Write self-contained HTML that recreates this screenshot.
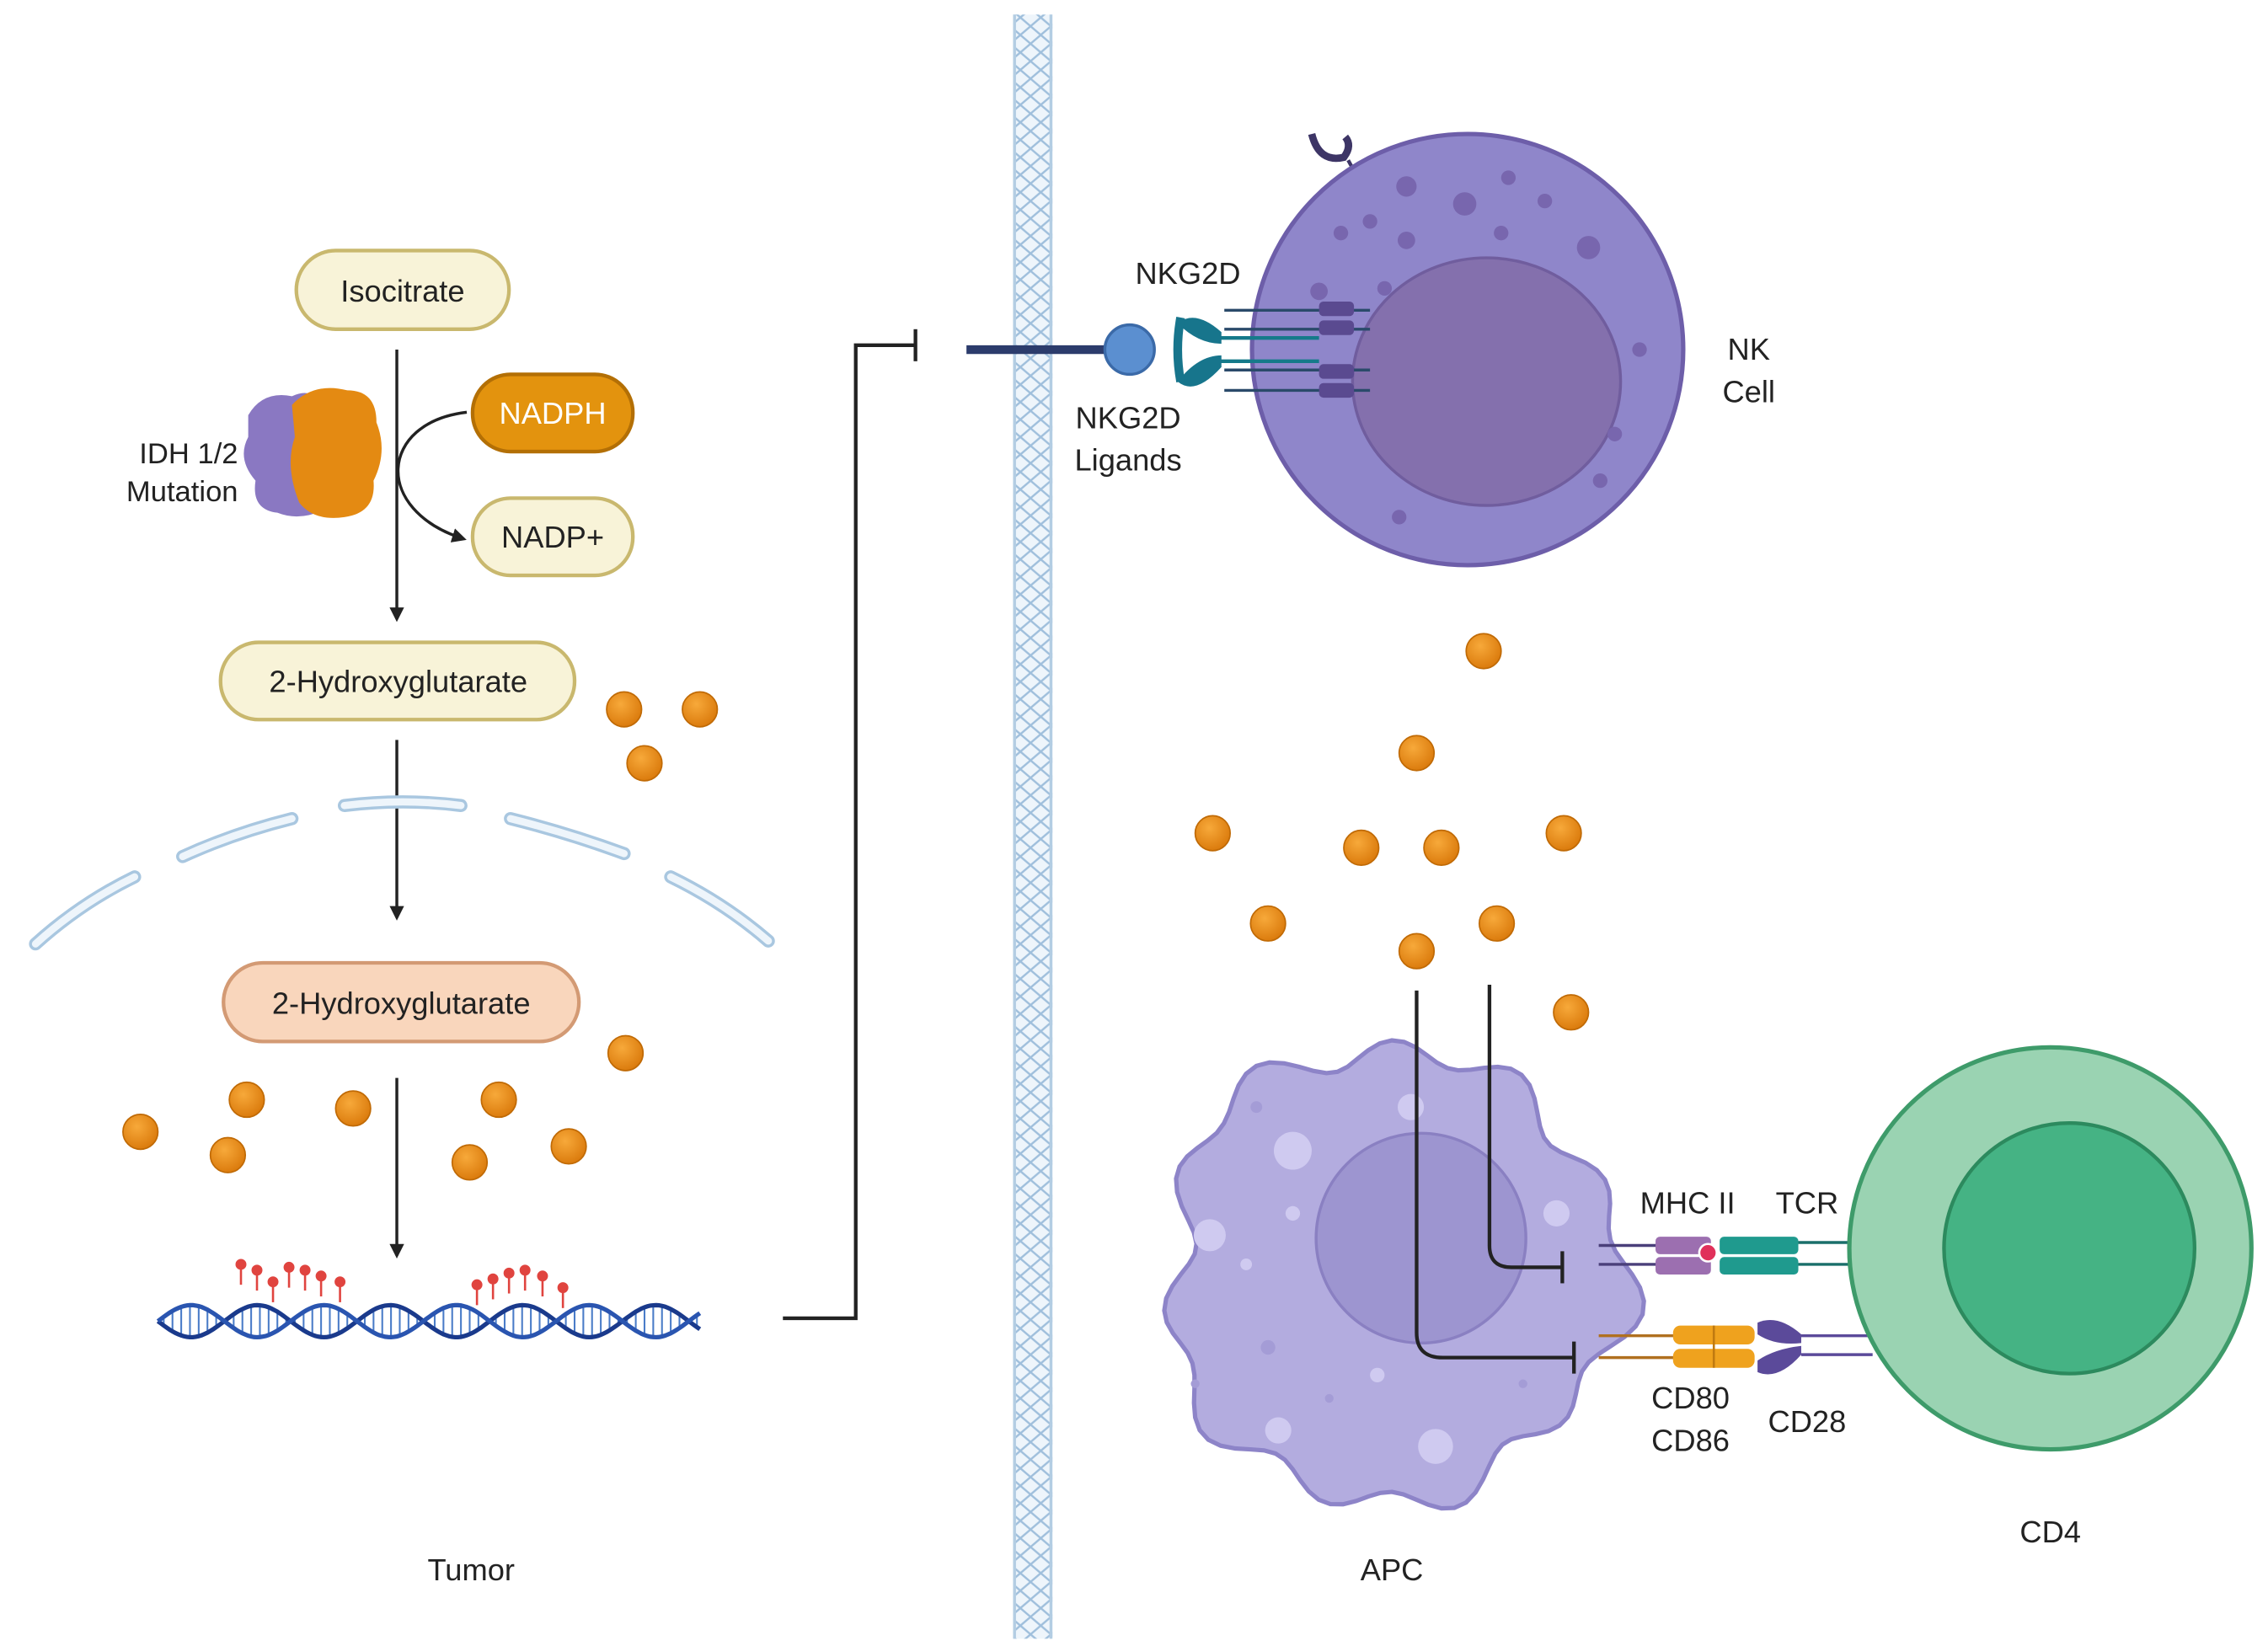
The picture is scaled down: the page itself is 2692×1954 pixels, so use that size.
<!DOCTYPE html>
<html><head><meta charset="utf-8"><style>
html,body{margin:0;padding:0;background:#fff;}
svg{display:block;}
text{font-family:"Liberation Sans",sans-serif;fill:#222;}
</style></head><body>
<svg id="s" width="2692" height="1954" viewBox="0 0 1556 1130" xmlns="http://www.w3.org/2000/svg">
<defs>
<pattern id="mem" width="14" height="12" patternUnits="userSpaceOnUse">
<path d="M0 0 L7 6 L0 12 M14 0 L7 6 L14 12" stroke="#9fbfdc" stroke-width="1.4" fill="none"/>
</pattern>
<marker id="ar" markerWidth="10" markerHeight="10" refX="8" refY="5" orient="auto" markerUnits="userSpaceOnUse"><path d="M0 0 L10 5 L0 10 z" fill="#222"/></marker>
<radialGradient id="dot" cx="0.4" cy="0.35" r="0.7"><stop offset="0" stop-color="#f7a93a"/><stop offset="1" stop-color="#d9780a"/></radialGradient>
</defs>
<rect width="1556" height="1130" fill="#fff"/>

<!-- membrane strip -->
<rect x="695" y="10" width="27" height="1115" fill="#eef5fb"/>
<rect x="695" y="10" width="27" height="1115" fill="url(#mem)"/>
<line x1="696" y1="10" x2="696" y2="1125" stroke="#b3cde3" stroke-width="2"/>
<line x1="721" y1="10" x2="721" y2="1125" stroke="#b3cde3" stroke-width="2"/>

<!-- left pathway -->
<rect x="203" y="172" width="146" height="54" rx="27" fill="#f8f3d8" stroke="#c9b86e" stroke-width="2.5"/>
<text x="276" y="207" font-size="21" text-anchor="middle">Isocitrate</text>
<rect x="324" y="257" width="110" height="53" rx="26" fill="#e3930e" stroke="#b36f05" stroke-width="2.5"/>
<text x="379" y="291" font-size="21" text-anchor="middle" style="fill:#fff">NADPH</text>
<rect x="324" y="342" width="110" height="53" rx="26" fill="#f8f3d8" stroke="#c9b86e" stroke-width="2.5"/>
<text x="379" y="376" font-size="21" text-anchor="middle">NADP+</text>
<line x1="272" y1="240" x2="272" y2="425" stroke="#222" stroke-width="2" marker-end="url(#ar)"/>
<path d="M320 283 C 260 290, 255 350, 318 370" stroke="#222" stroke-width="2" fill="none" marker-end="url(#ar)"/>
<!-- IDH protein -->
<g>
<path d="M170 285 Q180 268 200 272 Q215 265 222 280 L222 350 Q205 358 190 352 Q172 350 175 330 Q162 315 170 300 Z" fill="#8a78c2"/>
<path d="M200 278 Q215 262 238 268 Q258 268 258 290 Q266 310 256 330 Q258 352 236 355 Q215 358 205 345 Q195 320 202 300 Z" fill="#e48a12"/>
</g>
<text x="163" y="318" font-size="20" text-anchor="end">IDH 1/2</text>
<text x="163" y="344" font-size="20" text-anchor="end">Mutation</text>

<rect x="151" y="441" width="243" height="53" rx="26" fill="#f8f3d8" stroke="#c9b86e" stroke-width="2.5"/>
<text x="273" y="475" font-size="21" text-anchor="middle">2-Hydroxyglutarate</text>
<line x1="272" y1="508" x2="272" y2="630" stroke="#222" stroke-width="2" marker-end="url(#ar)"/>

<!-- nuclear membrane segments -->
<g stroke="#a9c7e0" stroke-width="9" stroke-linecap="round" fill="none">
<path d="M24 648 Q55 620 92 602" /><path d="M125 588 Q160 572 200 562"/>
<path d="M236 553 Q276 548 316 553"/><path d="M350 562 Q390 572 428 586"/>
<path d="M460 602 Q497 620 527 646"/>
</g>
<g stroke="#eef5fb" stroke-width="5" stroke-linecap="round" fill="none">
<path d="M24 648 Q55 620 92 602" /><path d="M125 588 Q160 572 200 562"/>
<path d="M236 553 Q276 548 316 553"/><path d="M350 562 Q390 572 428 586"/>
<path d="M460 602 Q497 620 527 646"/>
</g>

<rect x="153" y="661" width="244" height="54" rx="27" fill="#f9d6bc" stroke="#d39a74" stroke-width="2.5"/>
<text x="275" y="696" font-size="21" text-anchor="middle">2-Hydroxyglutarate</text>
<line x1="272" y1="740" x2="272" y2="862" stroke="#222" stroke-width="2" marker-end="url(#ar)"/>

<!-- DNA -->
<g id="dna" fill="none" stroke-width="3"></g>
<g id="pins" stroke="#e0443f" stroke-width="1.5" fill="#e0443f"></g>

<!-- bracket -->
<path d="M537 905 L587 905 L587 237 L628 237" stroke="#222" stroke-width="2.5" fill="none"/>
<line x1="628" y1="226" x2="628" y2="248" stroke="#222" stroke-width="2.5"/>

<text x="323" y="1085" font-size="21" text-anchor="middle">Tumor</text>

<!-- NK cell -->
<line x1="925" y1="110" x2="935" y2="128" stroke="#3d3566" stroke-width="2.5"/>
<path d="M900 92 Q905 112 922 108 Q928 100 923 94" stroke="#3d3566" stroke-width="5" fill="none"/>
<circle cx="1007" cy="240" r="148" fill="#8f86ca" stroke="#6d5ea9" stroke-width="3"/>
<ellipse cx="1020" cy="262" rx="92" ry="85" fill="#8470ad" stroke="#705d9e" stroke-width="2"/>
<g fill="#7866ae">
<circle cx="965" cy="128" r="7"/><circle cx="1005" cy="140" r="8"/><circle cx="1035" cy="122" r="5"/><circle cx="1060" cy="138" r="5"/>
<circle cx="940" cy="152" r="5"/><circle cx="965" cy="165" r="6"/><circle cx="920" cy="160" r="5"/><circle cx="1030" cy="160" r="5"/>
<circle cx="1090" cy="170" r="8"/><circle cx="905" cy="200" r="6"/><circle cx="950" cy="198" r="5"/><circle cx="1108" cy="298" r="5"/>
<circle cx="1098" cy="330" r="5"/><circle cx="960" cy="355" r="5"/><circle cx="1125" cy="240" r="5"/>
</g>
<!-- receptor lines -->
<g stroke="#2a4a6a" stroke-width="2">
<line x1="840" y1="213" x2="940" y2="213"/><line x1="840" y1="226" x2="940" y2="226"/>
<line x1="840" y1="254" x2="940" y2="254"/><line x1="840" y1="268" x2="940" y2="268"/>
</g>
<g stroke="#157a8a" stroke-width="2.5"><line x1="835" y1="232" x2="905" y2="232"/><line x1="835" y1="248" x2="905" y2="248"/></g>
<g fill="#5a4a90"><rect x="905" y="207" width="24" height="10" rx="3"/><rect x="905" y="220" width="24" height="10" rx="3"/>
<rect x="905" y="250" width="24" height="10" rx="3"/><rect x="905" y="263" width="24" height="10" rx="3"/></g>
<path d="M808 222 Q820 212 838 228 L838 236 Q822 236 808 222 Z" fill="#17758c"/>
<path d="M808 262 Q820 272 838 252 L838 244 Q822 244 808 262 Z" fill="#17758c"/>
<path d="M810 218 Q806 240 810 262" stroke="#17758c" stroke-width="6" fill="none"/>
<line x1="663" y1="240" x2="760" y2="240" stroke="#2c3c6c" stroke-width="6"/>
<circle cx="775" cy="240" r="17" fill="#5b8fd0" stroke="#3b6aa8" stroke-width="2"/>
<text x="815" y="195" font-size="21" text-anchor="middle">NKG2D</text>
<text x="774" y="294" font-size="21" text-anchor="middle">NKG2D</text>
<text x="774" y="323" font-size="21" text-anchor="middle">Ligands</text>
<text x="1200" y="247" font-size="21" text-anchor="middle">NK</text>
<text x="1200" y="276" font-size="21" text-anchor="middle">Cell</text>

<!-- APC -->
<circle cx="955" cy="875" r="160" fill="#b3acdf" stroke="#8d84c8" stroke-width="3" id="apcfb"/>
<path id="apc" d="" fill="#b3acdf" stroke="#8d84c8" stroke-width="3"/>
<circle cx="975" cy="850" r="72" fill="#9d95d0" stroke="#8a80c2" stroke-width="2"/>
<g fill="#cfcaf0">
<circle cx="887" cy="790" r="13"/><circle cx="968" cy="760" r="9"/><circle cx="1068" cy="833" r="9"/><circle cx="830" cy="848" r="11"/>
<circle cx="887" cy="833" r="5"/><circle cx="985" cy="993" r="12"/><circle cx="877" cy="982" r="9"/><circle cx="945" cy="944" r="5"/><circle cx="855" cy="868" r="4"/>
</g>
<g fill="#a49cd6"><circle cx="862" cy="760" r="4"/><circle cx="870" cy="925" r="5"/><circle cx="912" cy="960" r="3"/><circle cx="1045" cy="950" r="3"/><circle cx="820" cy="950" r="3"/></g>
<!-- inhibition lines -->
<path d="M972 680 L972 915 Q972 932 990 932 L1080 932" stroke="#222" stroke-width="2.5" fill="none"/>
<line x1="1080" y1="921" x2="1080" y2="943" stroke="#222" stroke-width="2.5"/>
<path d="M1022 676 L1022 855 Q1022 870 1037 870 L1072 870" stroke="#222" stroke-width="2.5" fill="none"/>
<line x1="1072" y1="859" x2="1072" y2="881" stroke="#222" stroke-width="2.5"/>
<!-- MHC/TCR -->
<g stroke="#4a3f7a" stroke-width="2"><line x1="1097" y1="855" x2="1140" y2="855"/><line x1="1097" y1="868" x2="1140" y2="868"/></g>
<rect x="1136" y="849" width="38" height="12" rx="3" fill="#9c6fb0"/><rect x="1136" y="863" width="38" height="12" rx="3" fill="#9c6fb0"/>
<circle cx="1172" cy="860" r="6" fill="#e0305a" stroke="#fff" stroke-width="1.5"/>
<rect x="1180" y="849" width="54" height="12" rx="3" fill="#1f9a8e"/><rect x="1180" y="863" width="54" height="12" rx="3" fill="#1f9a8e"/>
<g stroke="#1a6f6a" stroke-width="2"><line x1="1234" y1="853" x2="1282" y2="853"/><line x1="1234" y1="868" x2="1282" y2="868"/></g>
<!-- CD80/CD28 -->
<g stroke="#b07020" stroke-width="2"><line x1="1097" y1="917" x2="1150" y2="917"/><line x1="1097" y1="932" x2="1150" y2="932"/></g>
<rect x="1148" y="910" width="56" height="13" rx="5" fill="#efa21e"/><rect x="1148" y="926" width="56" height="13" rx="5" fill="#efa21e"/>
<line x1="1176" y1="910" x2="1176" y2="939" stroke="#c07a10" stroke-width="1.5"/>
<path d="M1206 908 Q1220 902 1236 916 L1236 922 Q1218 924 1206 916 Z" fill="#5b4a9a"/>
<path d="M1206 942 Q1220 948 1236 930 L1236 924 Q1218 926 1206 934 Z" fill="#5b4a9a"/>
<g stroke="#5b4a9a" stroke-width="2"><line x1="1236" y1="917" x2="1285" y2="917"/><line x1="1236" y1="930" x2="1285" y2="930"/></g>
<text x="1158" y="833" font-size="21" text-anchor="middle">MHC II</text>
<text x="1240" y="833" font-size="21" text-anchor="middle">TCR</text>
<text x="1160" y="967" font-size="21" text-anchor="middle">CD80</text>
<text x="1160" y="996" font-size="21" text-anchor="middle">CD86</text>
<text x="1240" y="983" font-size="21" text-anchor="middle">CD28</text>
<text x="955" y="1085" font-size="21" text-anchor="middle">APC</text>
<!-- CD4 -->
<circle cx="1407" cy="857" r="138" fill="#9ad3b2" stroke="#3e9b6a" stroke-width="3"/>
<circle cx="1420" cy="857" r="86" fill="#45b384" stroke="#2c8a5e" stroke-width="2.5"/>
<text x="1407" y="1059" font-size="21" text-anchor="middle">CD4</text>

<g id="dots"></g>
</svg>
<script>
(function(){
var NS="http://www.w3.org/2000/svg";
var pts=[[428,487],[480,487],[442,524],[429,723],[169,755],[96,777],[242,761],[156,793],[342,755],[322,798],[390,787],
[1018,447],[972,517],[832,572],[934,582],[989,582],[1073,572],[870,634],[1027,634],[972,653],[1078,695]];
var g=document.getElementById('dots');
pts.forEach(function(p){var c=document.createElementNS(NS,'circle');c.setAttribute('cx',p[0]);c.setAttribute('cy',p[1]);c.setAttribute('r',12);c.setAttribute('fill','url(#dot)');c.setAttribute('stroke','#c06a05');c.setAttribute('stroke-width','1');g.appendChild(c);});
// APC blob
var d="",cx=955,cy=875;
for(var i=0;i<=360;i+=3){var a=i*Math.PI/180;var r=155+9*Math.sin(a*11)+6*Math.sin(a*5+1)+5*Math.cos(a*3);
var x=cx+r*Math.cos(a),y=cy+r*Math.sin(a);d+=(i?"L":"M")+x.toFixed(1)+" "+y.toFixed(1);}
document.getElementById('apc').setAttribute('d',d+"Z");
document.getElementById('apcfb').setAttribute('opacity','0');
// DNA
var dg=document.getElementById('dna');
function strand(ph,col){var s="";for(var x=108;x<=480;x+=2){var y=907+11*Math.sin((x-108)/14.5+ph);s+=(x==108?"M":"L")+x+" "+y.toFixed(1);}
var p=document.createElementNS(NS,'path');p.setAttribute('d',s);p.setAttribute('stroke',col);dg.appendChild(p);}
for(var x=112;x<480;x+=6){var l=document.createElementNS(NS,'line');var y1=907+11*Math.sin((x-108)/14.5),y2=907+11*Math.sin((x-108)/14.5+Math.PI);
l.setAttribute('x1',x);l.setAttribute('x2',x);l.setAttribute('y1',y1);l.setAttribute('y2',y2);l.setAttribute('stroke','#4a7cc8');l.setAttribute('stroke-width','1.2');dg.appendChild(l);}
strand(0,'#1a3a8c');strand(Math.PI,'#2a55b0');
var pg=document.getElementById('pins');
var px=[165,176,187,198,209,220,233,327,338,349,360,372,386],py=[868,872,880,870,872,876,880,882,878,874,872,876,884];
px.forEach(function(x,i){var l=document.createElementNS(NS,'line');l.setAttribute('x1',x);l.setAttribute('x2',x);l.setAttribute('y1',py[i]);l.setAttribute('y2',py[i]+14);pg.appendChild(l);
var c=document.createElementNS(NS,'circle');c.setAttribute('cx',x);c.setAttribute('cy',py[i]);c.setAttribute('r',3);pg.appendChild(c);});
})();
</script>
</body></html>
